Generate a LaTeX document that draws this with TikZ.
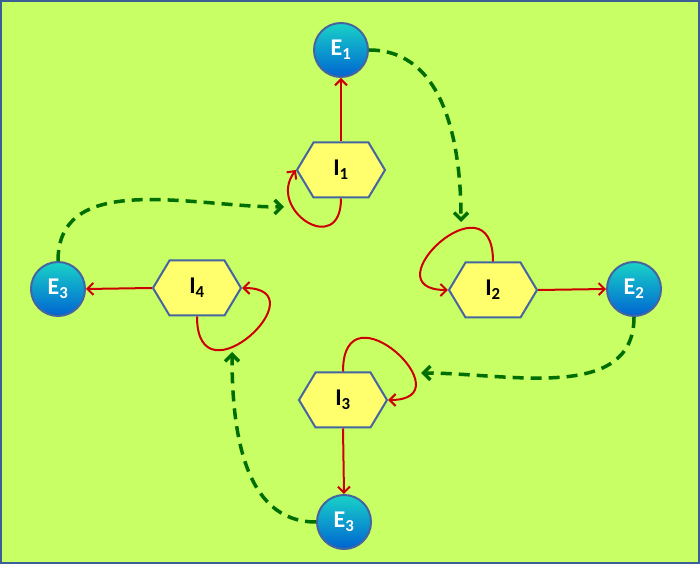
\documentclass[tikz,border=0pt]{standalone}
\usepackage{fontspec}
\setmainfont{Carlito}
\usepackage{tikz}
\usetikzlibrary{arrows.meta,shapes.symbols,positioning}
\usepackage{xcolor}
\definecolor{bglime}{RGB}{200,255,100}
\definecolor{frameblue}{RGB}{60,95,150}
\definecolor{hexyellow}{RGB}{255,255,110}
\definecolor{hexborder}{RGB}{70,100,160}
\definecolor{looptred}{RGB}{204,0,0}
\definecolor{dashgreen}{RGB}{0,110,0}
\definecolor{ballteal}{RGB}{25,210,200}
\definecolor{ballcyan}{RGB}{30,185,230}
\definecolor{ballblue}{RGB}{0,100,210}
\tikzstyle{redarrow} = [line width=2pt,-{Straight Barb[length=6pt,width=12pt]},color=looptred]
\tikzstyle{greenarrow} = [line width=3.5pt,dash pattern=on 11pt off 7pt,-{Straight Barb[length=7pt,width=14pt]},color=dashgreen]
\tikzstyle{internal} = [signal, signal to=west and east, signal pointer angle=118, minimum width=88pt, minimum height=55pt, inner sep=0pt, draw=hexborder, fill=hexyellow, line width=2pt, font=\fontsize{24}{28}\selectfont\bfseries]
\tikzstyle{external} = [circle, minimum size=54pt, inner sep=0pt, draw=hexborder, line width=2pt, top color=ballteal, middle color=ballcyan, bottom color=ballblue, text=white, font=\fontsize{24}{28}\selectfont\bfseries]

\begin{document}
\begin{tikzpicture}[x=1pt,y=1pt]
% background and frame
\useasboundingbox (0,0) rectangle (700,564);
\fill[bglime] (0,0) rectangle (700,564);
\draw[frameblue,line width=2pt] (1,1) rectangle (699,563);

% internal states
\node (i1) [internal] at (341,394) {I\textsubscript{1}};
\node (i2) [internal] at (493,274) {I\textsubscript{2}};
\node (i3) [internal] at (343,164) {I\textsubscript{3}};
\node (i4) [internal] at (197,276) {I\textsubscript{4}};

% external states
\node (e1) [external] at (341,514) {E\textsubscript{1}};
\node (e2) [external] at (634,275) {E\textsubscript{2}};
\node (e3b) [external] at (344,42) {E\textsubscript{3}};
\node (e3l) [external] at (58,275) {E\textsubscript{3}};

% outputs
\draw[redarrow] (i1.north) -- (e1.south);
\draw[redarrow] (i2.east) -- (e2.west);
\draw[redarrow] (i3.south) -- (e3b.north);
\draw[redarrow] (i4.west) -- (e3l.east);

% self loops
\draw[redarrow] (i1.south) .. controls +(0,-60) and +(-30,-40) .. (i1.west);
\draw[redarrow] (i2.north) .. controls +(0,90) and +(-80,0) .. (i2.west);
\draw[redarrow] (i3.north) .. controls +(0,90) and +(80,0) .. (i3.east);
\draw[redarrow] (i4.south) .. controls +(0,-90) and +(80,0) .. (i4.east);

% feedback
\coordinate (t12) at (461,342);
\coordinate (t23) at (421,191);
\coordinate (t34) at (232,212);
\coordinate (t41) at (284,357);
\draw[greenarrow] (e1.east) to[out=0,in=90] (t12);
\draw[greenarrow] (e2.south) to[out=-90,in=0] (t23);
\draw[greenarrow] (e3b.west) to[out=180,in=-90] (t34);
\draw[greenarrow] (e3l.north) to[out=90,in=180] (t41);
\end{tikzpicture}
\end{document}
